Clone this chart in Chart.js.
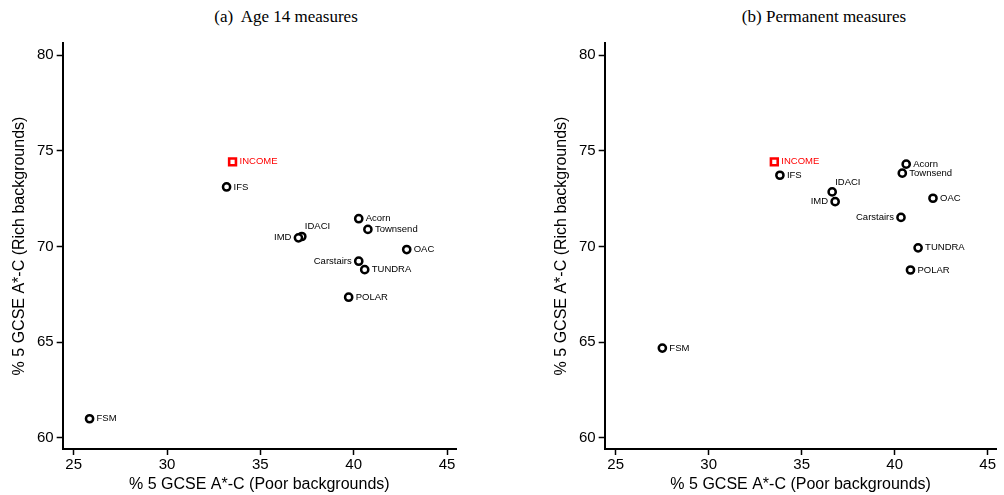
<!DOCTYPE html>
<html>
<head>
<meta charset="utf-8">
<script src="https://cdn.jsdelivr.net/npm/chart.js@4/dist/chart.umd.min.js"></script>
<style>
  body { margin: 0; background: #fff; width: 1004px; height: 495px; overflow: hidden; position: relative; }
  canvas { position: absolute; top: 0; }
  #c1 { left: 0; }
  #c2 { left: 502px; }
  .titulo { position: absolute; top: 7px; font: 17px "Liberation Serif", "Times New Roman", serif; color: #000; white-space: nowrap; transform: translateX(-50%); }
</style>
</head>
<body>
<div class="titulo" style="left:286px">(a)&nbsp; Age 14 measures</div>
<div class="titulo" style="left:824px">(b) Permanent measures</div>
<canvas id="c1" width="500" height="495"></canvas>
<canvas id="c2" width="502" height="495"></canvas>
<script>
const medidas = ['INCOME', 'IFS', 'IDACI', 'IMD', 'Acorn', 'Townsend', 'OAC', 'Carstairs', 'TUNDRA', 'POLAR', 'FSM'];

// painel (a) - medidas aos 14 anos
const idade14Pobre = [33.51, 33.19, 37.22, 37.04, 40.27, 40.76, 42.84, 40.27, 40.59, 39.73, 25.85];
const idade14Rico  = [74.42, 73.11, 70.52, 70.45, 71.45, 70.89, 69.84, 69.23, 68.79, 67.35, 61.00];

// painel (b) - medidas permanentes
const permPobre = [33.53, 33.83, 36.64, 36.80, 40.62, 40.41, 42.06, 40.34, 41.26, 40.85, 27.51];
const permRico  = [74.42, 73.72, 72.85, 72.34, 74.30, 73.83, 72.52, 71.52, 69.93, 68.77, 64.69];

const xTicks = [25, 30, 35, 40, 45];
const yTicks = [60, 65, 70, 75, 80];

const tituloX = '% 5 GCSE A*-C (Poor backgrounds)';
const tituloY = '% 5 GCSE A*-C (Rich backgrounds)';

// onde fica o rótulo de cada ponto
const posRotulo = { IDACI: 'acima', IMD: 'esquerda', Carstairs: 'esquerda' };

const rotulosPlugin = {
    id: 'rotulos',
    afterDatasetsDraw(chart) {
        const ctx = chart.ctx;
        const meta = chart.getDatasetMeta(0);
        ctx.save();
        ctx.font = '9.5px "Liberation Sans", Arial, sans-serif';
        ctx.textBaseline = 'middle';
        meta.data.forEach((pt, i) => {
            const nome = medidas[i];
            const pos = posRotulo[nome] || 'direita';
            ctx.fillStyle = nome === 'INCOME' ? '#ff0000' : '#000';
            if (pos === 'esquerda') {
                ctx.textAlign = 'right';
                ctx.fillText(nome, pt.x - 7, pt.y);
            } else if (pos === 'acima') {
                ctx.textAlign = 'left';
                ctx.fillText(nome, pt.x + 3, pt.y - 10);
            } else {
                ctx.textAlign = 'left';
                ctx.fillText(nome, pt.x + 7, pt.y);
            }
        });
        ctx.restore();
    }
};

const fonte = '"Liberation Sans", Arial, sans-serif';

function eixo(ticks, min, max, titulo, tickPad, tituloPad) {
    return {
        type: 'linear',
        min: min,
        max: max,
        afterBuildTicks: a => { a.ticks = ticks.map(v => ({ value: v })); },
        grid: { drawOnChartArea: false, color: '#000', tickLength: 6, tickWidth: 1.5 },
        border: { color: '#000', width: 2 },
        ticks: { color: '#000', padding: tickPad, font: { size: 15, family: fonte, lineHeight: 1 } },
        title: { display: true, text: titulo, color: '#000', padding: tituloPad, font: { size: 16, family: fonte, lineHeight: 1 } }
    };
}

function criarGrafico(id, xs, ys, padding) {
    const ctx = document.getElementById(id).getContext('2d');
    return new Chart(ctx, {
        type: 'scatter',
        data: {
            datasets: [{
                data: xs.map((x, i) => ({ x: x, y: ys[i] })),
                pointStyle: medidas.map(m => m === 'INCOME' ? 'rect' : 'circle'),
                pointRadius: medidas.map(m => m === 'INCOME' ? 4.8 : 3.6),
                pointBorderWidth: medidas.map(m => m === 'INCOME' ? 2.6 : 2.5),
                pointBorderColor: medidas.map(m => m === 'INCOME' ? '#ff0000' : '#000'),
                pointBackgroundColor: '#fff'
            }]
        },
        options: {
            responsive: false,
            animation: false,
            layout: { padding: padding },
            plugins: { legend: { display: false }, tooltip: { enabled: false } },
            scales: {
                x: eixo(xTicks, 24.41, 45.48, tituloX, 2, { top: 3, bottom: 0 }),
                y: eixo(yTicks, 59.42, 80.63, tituloY, 3, { top: 4, bottom: 6 })
            }
        },
        plugins: [rotulosPlugin]
    });
}

criarGrafico('c1', idade14Pobre, idade14Rico, { top: 43, left: 8, right: 44, bottom: 2 });
criarGrafico('c2', permPobre, permRico, { top: 43, left: 48, right: 2, bottom: 2 });
</script>
</body>
</html>
